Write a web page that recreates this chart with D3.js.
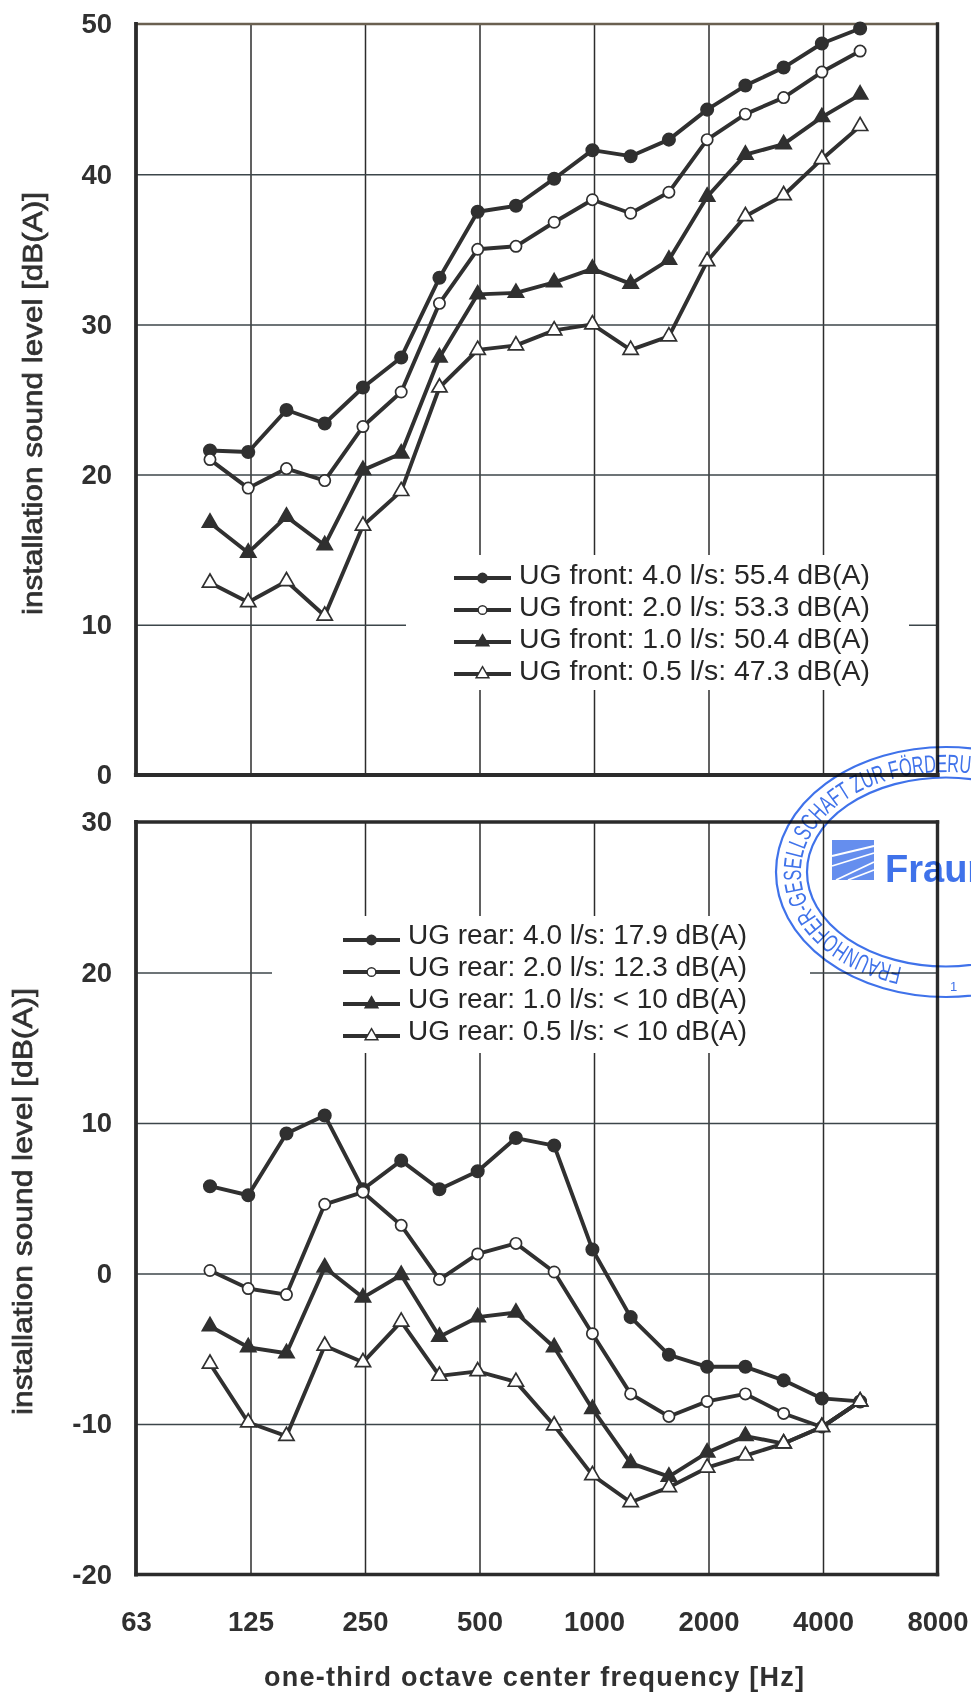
<!DOCTYPE html>
<html><head><meta charset="utf-8">
<script src="https://cdn.jsdelivr.net/npm/d3@7/dist/d3.min.js"></script>
<style>
html,body{margin:0;padding:0;background:#fff;overflow:hidden}
text{font-family:"Liberation Sans",Arial,sans-serif}
</style></head><body>
<svg id="c" width="971" height="1693" xmlns="http://www.w3.org/2000/svg"></svg>
<script>
const freqs=[100,125,160,200,250,315,400,500,630,800,1000,1250,1600,2000,2500,3150,4000,5000];
const octaves=[63,125,250,500,1000,2000,4000,8000];
const frontTicks=[0,10,20,30,40,50];
const rearTicks=[-20,-10,0,10,20,30];

const front40=[21.6,21.5,24.3,23.4,25.8,27.8,33.1,37.5,37.9,39.7,41.6,41.2,42.3,44.3,45.9,47.1,48.7,49.7];
const front20=[21.0,19.1,20.4,19.6,23.2,25.5,31.4,35.0,35.2,36.8,38.3,37.4,38.8,42.3,44.0,45.1,46.8,48.2];
const front10=[16.8,14.8,17.2,15.3,20.3,21.4,27.8,32.0,32.1,32.8,33.7,32.7,34.3,38.5,41.3,42.0,43.8,45.3];
const front05=[12.8,11.5,12.9,10.6,16.6,18.9,25.8,28.3,28.6,29.6,30.0,28.3,29.2,34.2,37.2,38.6,41.0,43.2];

const rear40=[5.8,5.2,9.3,10.5,5.6,7.5,5.6,6.8,9.0,8.5,1.6,-2.9,-5.4,-6.2,-6.2,-7.1,-8.3,-8.5];
const rear20=[0.2,-1.0,-1.4,4.6,5.4,3.2,-0.4,1.3,2.0,0.1,-4.0,-8.0,-9.5,-8.5,-8.0,-9.3,-10.2,-8.5];
const rear10=[-3.5,-4.9,-5.3,0.4,-1.6,-0.1,-4.2,-2.9,-2.6,-4.9,-9.0,-12.6,-13.5,-11.9,-10.8,-11.3,-10.2,-8.5];
const rear05=[-6.0,-9.9,-10.8,-4.8,-5.9,-3.2,-6.8,-6.5,-7.2,-10.1,-13.4,-15.2,-14.2,-12.9,-12.1,-11.3,-10.2,-8.5];

const frontLabels=["UG front: 4.0 l/s: 55.4 dB(A)","UG front: 2.0 l/s: 53.3 dB(A)","UG front: 1.0 l/s: 50.4 dB(A)","UG front: 0.5 l/s: 47.3 dB(A)"];
const rearLabels=["UG rear: 4.0 l/s: 17.9 dB(A)","UG rear: 2.0 l/s: 12.3 dB(A)","UG rear: 1.0 l/s: < 10 dB(A)","UG rear: 0.5 l/s: < 10 dB(A)"];
const yTitle="installation sound level [dB(A)]";
const xTitle="one-third octave center frequency [Hz]";
const stampText="FRAUNHOFER-GESELLSCHAFT ZUR FÖRDERUNG";

const INK="#303030";
const svg=d3.select("#c");
svg.append("rect").attr("width",971).attr("height",1693).attr("fill","#fff");

const gridX=d3.scaleLog().base(2).domain([62.5,8000]).range([136,937.5]);
const octaveVal=d=>d===63?62.5:d;
const dataX=d3.scaleLinear().domain([-2,19]).range([133.5,936.6]);

const markerTypes=[
 {sym:d3.symbolCircle,fill:INK,size:120,lsize:70},
 {sym:d3.symbolCircle,fill:"#fff",size:100,lsize:60},
 {sym:d3.symbolTriangle,fill:INK,size:100,lsize:70},
 {sym:d3.symbolTriangle,fill:"#fff",size:100,lsize:70}
];

function panel(o){
 const g=svg.append("g");
 const y=d3.scaleLinear().domain(o.dom).range([o.bottom,o.top]);
 const h=o.bottom-o.top;
 const gx=g.append("g").attr("transform",`translate(0,${o.bottom})`)
   .call(d3.axisBottom(gridX).tickValues(octaves.slice(1,-1)).tickSize(-h).tickFormat(""));
 gx.select(".domain").remove();
 gx.selectAll("line").attr("stroke","#2c2c2c").attr("stroke-width",1.5);
 const gy=g.append("g").attr("transform","translate(136,0)")
   .call(d3.axisLeft(y).tickValues(o.ticks.slice(1,-1)).tickSize(-801).tickFormat(""));
 gy.select(".domain").remove();
 gy.selectAll("line").attr("stroke","#3c464a").attr("stroke-width",1.5);
 g.append("rect").attr("x",o.leg.kx0).attr("y",o.leg.ky0).attr("width",o.leg.kx1-o.leg.kx0).attr("height",o.leg.ky1-o.leg.ky0).attr("fill","#fff");
 const fr=(x1,y1,x2,y2,w,c)=>g.append("line").attr("x1",x1).attr("y1",y1).attr("x2",x2).attr("y2",y2).attr("stroke",c||"#2b2b2b").attr("stroke-width",w).attr("stroke-linecap","square");
 fr(136,o.top,937.5,o.top,o.topW,o.topC);
 fr(136,o.top,136,o.bottom,3.8);
 fr(937.5,o.top,937.5,o.bottom,3.4);
 fr(136,o.bottom,937.5,o.bottom,o.botW);
 const ax=g.append("g").attr("transform","translate(112,0)")
   .call(d3.axisLeft(y).tickValues(o.ticks).tickSize(0).tickPadding(0).tickFormat(d=>String(d)));
 ax.select(".domain").remove();
 ax.selectAll("text").attr("font-size",27.5).attr("font-weight","bold").attr("fill",INK).attr("dy","0.32em")
   .attr("font-family",'"Liberation Sans"');
 g.append("text").attr("transform",`translate(${o.tx},${o.tc}) rotate(-90)`).attr("text-anchor","middle")
  .attr("font-size",28).attr("fill",INK).attr("stroke",INK).attr("stroke-width",0.7)
  .attr("textLength",o.tl).attr("lengthAdjust","spacingAndGlyphs").text(yTitle);
 const line=d3.line().x((d,i)=>dataX(i)).y(d=>y(d));
 o.series.forEach(s=>{
  g.append("path").datum(s).attr("d",line).attr("fill","none").attr("stroke",INK).attr("stroke-width",3.9).attr("stroke-linejoin","round");
 });
 o.series.forEach((s,k)=>{
  const m=markerTypes[k];
  g.selectAll(null).data(s).enter().append("path")
   .attr("d",d3.symbol().type(m.sym).size(m.size))
   .attr("transform",(d,i)=>`translate(${dataX(i)},${y(d)})`)
   .attr("fill",m.fill).attr("stroke",INK).attr("stroke-width",1.7);
 });
 o.leg.labels.forEach((t,k)=>{
  const m=markerTypes[k], ly=o.leg.line0+k*32;
  g.append("line").attr("x1",o.leg.lx0).attr("x2",o.leg.lx1).attr("y1",ly).attr("y2",ly).attr("stroke",INK).attr("stroke-width",3.9);
  g.append("path").attr("d",d3.symbol().type(m.sym).size(m.lsize)).attr("transform",`translate(${(o.leg.lx0+o.leg.lx1)/2},${ly})`)
   .attr("fill",m.fill).attr("stroke",INK).attr("stroke-width",1.5);
  g.append("text").attr("x",o.leg.tx).attr("y",o.leg.base0+k*32).attr("font-size",27).attr("fill","#262626")
   .attr("textLength",o.leg.tw).attr("lengthAdjust","spacingAndGlyphs").text(t);
 });
}

panel({dom:[0,50],ticks:frontTicks,top:24,bottom:775,topW:2.6,topC:"#6a6050",botW:4.2,
 series:[front40,front20,front10,front05],tx:42,tc:403.5,tl:423,
 leg:{labels:frontLabels,line0:578,base0:584,lx0:454,lx1:511,tx:519,tw:351,kx0:406,kx1:909,ky0:555,ky1:690}});

panel({dom:[-20,30],ticks:rearTicks,top:822,bottom:1574.5,topW:3.4,botW:3.4,
 series:[rear40,rear20,rear10,rear05],tx:32,tc:1201.5,tl:427,
 leg:{labels:rearLabels,line0:940,base0:944,lx0:343,lx1:400,tx:408,tw:339,kx0:272,kx1:810,ky0:916,ky1:1053}});

const xa=svg.append("g").attr("transform","translate(0,1611)")
 .call(d3.axisBottom(gridX).tickValues(octaves.map(octaveVal)).tickSize(0).tickPadding(0)
 .tickFormat((d,i)=>octaves[i]));
xa.select(".domain").remove();
xa.selectAll("text").attr("font-size",27.5).attr("font-weight","bold").attr("fill",INK).attr("dy","0.71em")
  .attr("font-family",'"Liberation Sans"');
svg.append("text").attr("x",534).attr("y",1686).attr("text-anchor","middle").attr("font-size",27).attr("font-weight","bold")
 .attr("fill",INK).attr("textLength",540).attr("lengthAdjust","spacing").text(xTitle);

// stamp
const BLUE="#3f72ea";
const st=svg.append("g").style("mix-blend-mode","multiply");
const cx=946,cy=872;
st.append("ellipse").attr("cx",cx).attr("cy",cy).attr("rx",170).attr("ry",125).attr("fill","none").attr("stroke",BLUE).attr("stroke-width",2.2);
st.append("ellipse").attr("cx",cx).attr("cy",cy).attr("rx",139).attr("ry",94.5).attr("fill","none").attr("stroke",BLUE).attr("stroke-width",2.2);
const defs=svg.append("defs");
const rx=145,ry=100;
defs.append("path").attr("id","stampArc").attr("d",`M ${cx} ${cy+ry} A ${rx} ${ry} 0 1 1 ${cx} ${cy-ry} A ${rx} ${ry} 0 0 1 ${cx+rx} ${cy}`);
st.append("text").attr("font-size",25).attr("fill",BLUE).attr("font-family",'"Liberation Sans Narrow","Liberation Sans"')
 .append("textPath").attr("href","#stampArc").attr("startOffset",44).attr("textLength",393).attr("lengthAdjust","spacingAndGlyphs").text(stampText);
st.append("rect").attr("x",832).attr("y",840).attr("width",42).attr("height",40).attr("fill",BLUE).attr("opacity",0.8);
[[832,856,874,846],[832,866,874,853],[836,880,874,862],[848,880,874,870]].forEach(d=>{
 st.append("line").attr("x1",d[0]).attr("y1",d[1]).attr("x2",d[2]).attr("y2",d[3]).attr("stroke","#fff").attr("stroke-width",1.8);
});
st.append("text").attr("x",885).attr("y",882).attr("font-size",38).attr("font-weight","bold").attr("fill",BLUE).text("Fraun");
st.append("text").attr("x",950).attr("y",991).attr("font-size",13).attr("fill",BLUE).text("1");
</script>
</body></html>
